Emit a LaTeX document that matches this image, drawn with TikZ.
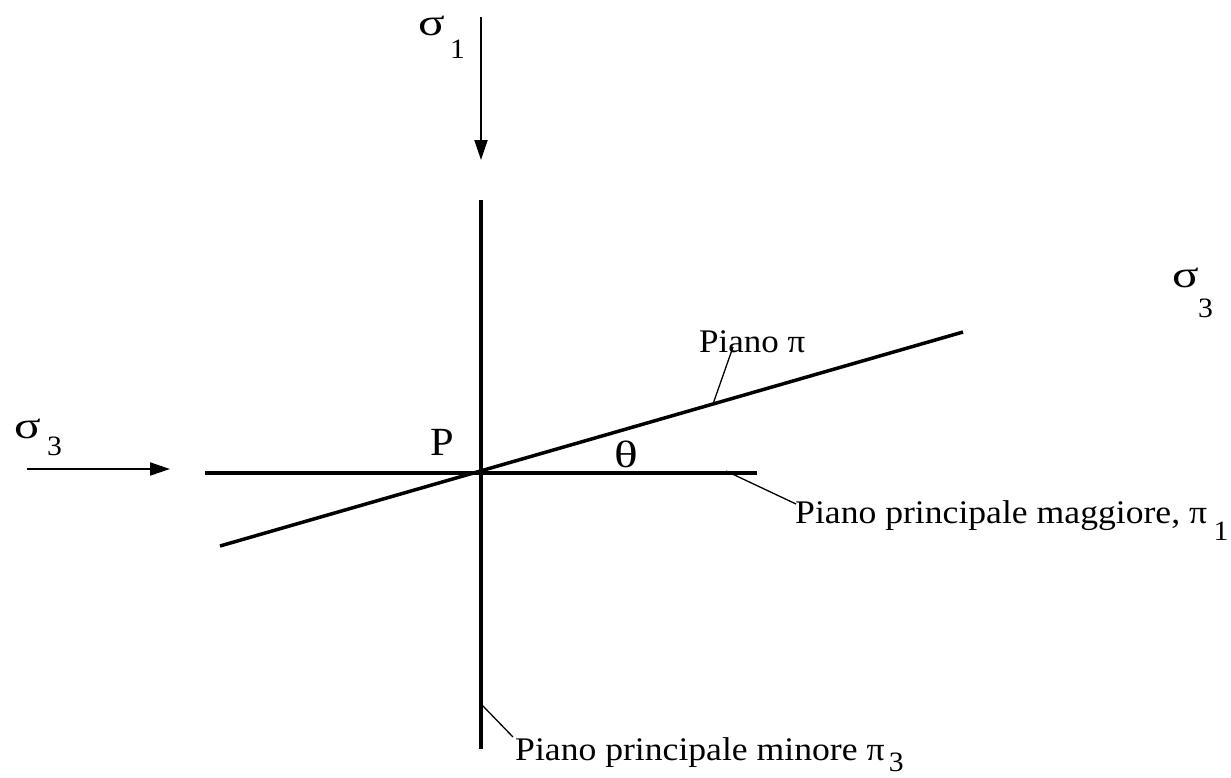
\documentclass[tikz,border=0pt]{standalone}
\usepackage{fontspec}
\setmainfont[FakeStretch=1.06]{Liberation Serif}
\newfontfamily\symfont[FakeStretch=1.3]{Liberation Serif}
\newfontfamily\minfont[FakeStretch=1.08]{Liberation Serif}
\newfontfamily\magfont[FakeStretch=1.08]{Liberation Serif}
\usetikzlibrary{arrows.meta,calc}
\begin{document}
\begin{tikzpicture}[x=1pt,y=-1pt,
 plane/.style={line width=3.5pt},
 force/.style={line width=2pt,-{Triangle[length=20pt,width=13pt]}},
 leader/.style={line width=1.3pt},
 lbl/.style={inner sep=0,anchor=base west,font=\fontsize{33}{36}\selectfont},
 sym/.style={inner sep=0,anchor=base west,font=\symfont\fontsize{38}{40}\selectfont},
 sub/.style={inner sep=0,anchor=base west,font=\fontsize{28}{30}\selectfont}]
\useasboundingbox (0,0) rectangle (1231,777);
% points
\coordinate (P) at (481,473);
\coordinate (vtop) at (481,200);
\coordinate (vbot) at (481,749);
\coordinate (hL) at (205,473);
\coordinate (hR) at (757,473);
\coordinate (iL) at (220,546);
\coordinate (iR) at (963,332);
\coordinate (s1a) at (481,17);
\coordinate (s1b) at (481,160);
\coordinate (s3a) at (27,469);
\coordinate (s3b) at (170,469);
% planes
\draw[plane] (vtop) -- (vbot);
\draw[plane] (hL) -- (hR);
\draw[plane] (iL) -- (iR);
% forces
\draw[force] (s1a) -- (s1b);
\draw[force] (s3a) -- (s3b);
% sigma labels
\node[sym] (sg1) at (418,35) {σ};
\node[sub] (sg1s) at ($(sg1.base east)+(5,23)$) {1};
\node[sym] (sg3r) at (1172,287) {σ};
\node[sub] (sg3rs) at ($(sg3r.base east)+(-1,30)$) {3};
\node[sym] (sg3l) at (14,438) {σ};
\node[sub] (sg3ls) at ($(sg3l.base east)+(6,17)$) {3};
% P and theta
\node[inner sep=0,anchor=base west,font=\fontsize{40}{44}\selectfont] (Plab) at (430,455) {P};
\node[inner sep=0,anchor=base west,font=\symfont\fontsize{38}{40}\selectfont] (th) at (614,467) {θ};
% Piano pi
\node[lbl] (pp) at (699,352) {Piano π};
\coordinate (ppl) at (713,404);
\draw[leader] (ppl) -- ($(pp.base west)+(34,-5)$);
% maggiore
\node[lbl,font=\magfont\fontsize{33}{36}\selectfont] (pm) at (795,523) {Piano principale maggiore, π};
\node[sub] (pms) at ($(pm.base east)+(6,17)$) {1};
\coordinate (pml) at (726,471);
\draw[leader] (pml) -- ($(pm.base west)+(1,-19)$);
% minore
\node[lbl,font=\minfont\fontsize{33}{36}\selectfont] (pn) at (515,760) {Piano principale minore π};
\node[sub] (pns) at ($(pn.base east)+(4,11)$) {3};
\coordinate (pnl) at (482,705);
\draw[leader] (pnl) -- ($(pn.base west)+(-2,-23)$);
\end{tikzpicture}
\end{document}
